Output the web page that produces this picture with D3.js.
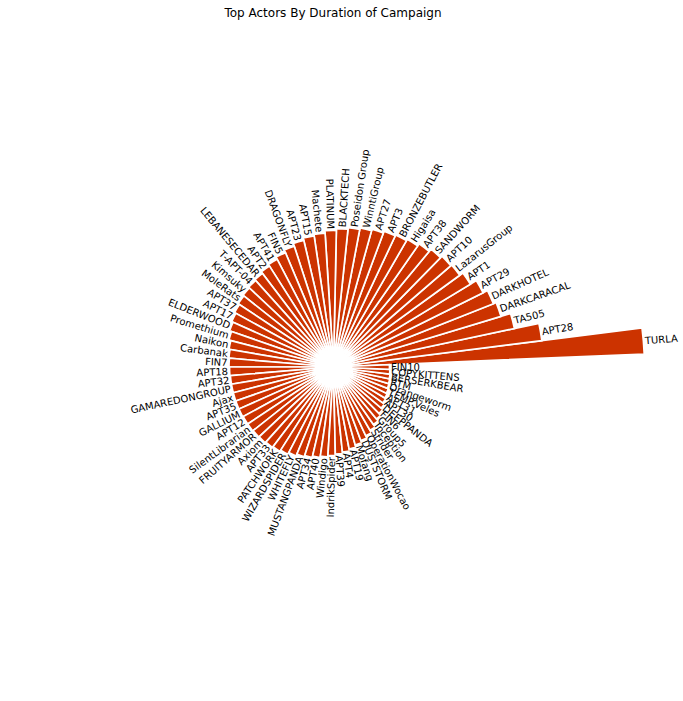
<!DOCTYPE html>
<html>
<head>
<meta charset="utf-8">
<script src="https://cdn.jsdelivr.net/npm/d3@7"></script>
<style>
  html, body { margin: 0; padding: 0; background: #fff; }
  text { font-family: "DejaVu Sans", sans-serif; }
</style>
</head>
<body>
<svg id="chart" width="683" height="701"></svg>
<script>
// Actors, sorted by duration (descending)
const actors = ["TURLA","APT28","TA505","DARKCARACAL","DARKHOTEL","APT29","APT1","LazarusGroup","APT10","SANDWORM",
  "APT38","Higaisa","BRONZEBUTLER","APT3","APT27","WinntiGroup","Poseidon Group","BLACKTECH","PLATINUM","Machete",
  "APT15","APT23","DRAGONFLY","FIN5","APT41","APT2","LEBANESECEDAR","T-APT-04","Kimsuky","MoleRats",
  "APT37","APT17","ELDERWOOD","Promethium","Naikon","Carbanak","FIN7","APT18","APT32","GAMAREDONGROUP",
  "Ajax","APT35","GALLIUM","APT12","SilentLibrarian","FRUITYARMOR","Axiom","APT33","PATCHWORK","WIZARDSPIDER",
  "WHITEFLY","MUSTANGPANDA","APT34","APT40","Windigo","IndrikSpider","APT39","APT4","APT19","Mofang",
  "DUSTSTORM","OperationWocao","Strider","Inception","Group5","FIN6","DEEPPANDA","APT30","APT31","TEMP.Veles",
  "Orangeworm","RTM","BERSERKBEAR","COPYKITTENS","FIN10"];

// Campaign durations
const durations = [293,192,167,157,154,149,142,138,137,135,
  132,129.5,128,127,125,123.5,122,120.5,118.5,116,
  114.5,112,109,106,103.5,101.5,99.5,98.5,97.5,96.5,
  95,93.5,92,90,88,87,86.5,86,85.5,85.5,
  85.5,85.5,85.5,85,85,84.5,84,83,82,80.5,
  78.5,76.5,75,73.5,72,70.5,69,67.5,65.5,63,
  60.5,58,55,52,49.5,47,45,43,42,41,
  40,39.5,39,38.5,38];

const chartTitle = "Top Actors By Duration of Campaign";

const W = 683, H = 701;
const cx = 333.5, cy = 367;
const innerR = 18, outerMax = 311;
const N = actors.length;
const step = 2 * Math.PI / N;

const svg = d3.select("#chart");

svg.append("text")
  .attr("x", 333)
  .attr("y", 17)
  .attr("text-anchor", "middle")
  .attr("font-size", 12)
  .attr("fill", "#000")
  .text(chartTitle);

const r = d3.scaleLinear().domain([0, d3.max(durations)]).range([innerR, outerMax]);

// angular position (math convention, counter-clockwise from east); last actor sits at 0
const data = actors.map((name, i) => ({
  name, value: durations[i], theta: ((i + 1) % N) * step
}));

const g = svg.append("g").attr("transform", `translate(${cx},${cy})`);

const arc = d3.arc()
  .innerRadius(innerR)
  .outerRadius(d => r(d.value))
  .startAngle(d => Math.PI / 2 - d.theta - step / 2)
  .endAngle(d => Math.PI / 2 - d.theta + step / 2);

g.selectAll("path.bar")
  .data(data)
  .join("path")
  .attr("class", "bar")
  .attr("d", arc)
  .attr("fill", "#cc3300")
  .attr("stroke", "#ffffff")
  .attr("stroke-width", 1.7)
  .attr("stroke-linejoin", "miter");

const pad = 1.5;
g.selectAll("text.lbl")
  .data(data)
  .join("text")
  .attr("class", "lbl")
  .attr("font-size", 10)
  .attr("fill", "#000")
  .attr("dy", "0.35em")
  .attr("transform", d => {
    const rr = r(d.value) + pad;
    const x = rr * Math.cos(d.theta);
    const y = -rr * Math.sin(d.theta);
    let deg = d.theta * 180 / Math.PI;
    const flip = d.theta >= Math.PI / 2 && d.theta < 3 * Math.PI / 2;
    const rot = flip ? -(deg + 180) : -deg;
    return `translate(${x},${y}) rotate(${rot})`;
  })
  .attr("text-anchor", d => (d.theta >= Math.PI / 2 && d.theta < 3 * Math.PI / 2) ? "end" : "start")
  .text(d => d.name);
</script>
</body>
</html>
